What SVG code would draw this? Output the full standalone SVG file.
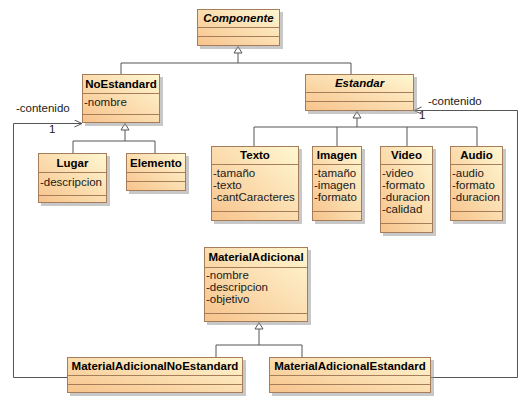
<svg xmlns="http://www.w3.org/2000/svg" width="519" height="399" viewBox="0 0 519 399">
<style>
.bx{fill:url(#g);stroke:#a57d5a;stroke-width:1}
.sh{fill:#9a9a9a;opacity:0.55}
.sep{stroke:#a57d5a;stroke-width:1}
.t{font-family:"Liberation Sans",Arial,sans-serif;font-size:11.5px;font-weight:bold;fill:#000;text-anchor:middle}
.ti{font-style:italic}
.a{font-family:"Liberation Sans",Arial,sans-serif;font-size:11.5px;fill:#1a1a1a}
.c{fill:none;stroke:#555;stroke-width:1}
.tri{fill:#fff;stroke:#555;stroke-width:1}
.l{font-family:"Liberation Sans",Arial,sans-serif;font-size:11.5px;fill:#1a1a1a}
</style>
<defs>
<linearGradient id="g" x1="0" y1="1" x2="1" y2="0">
<stop offset="0" stop-color="#f7c38c"/>
<stop offset="1" stop-color="#fff7d2"/>
</linearGradient>
<marker id="open" markerWidth="10" markerHeight="10" refX="8" refY="4" orient="auto" markerUnits="userSpaceOnUse">
<path d="M0.5,0.5 L8,4 L0.5,7.5" fill="none" stroke="#555" stroke-width="1"/>
</marker>
</defs>
<rect width="519" height="399" fill="#fff"/>

<g id="connectors">
<polyline class="c" points="238,53 238,63"/>
<polyline class="c" points="121,74 121,63 351,63 351,74"/>
<polygon class="tri" points="238,46.5 234,53 242,53"/>
<polyline class="c" points="125,130 125,141"/>
<polyline class="c" points="73,153 73,141 155,141 155,153"/>
<polygon class="tri" points="125,123.5 121,130 129,130"/>
<polyline class="c" points="357,118 357,127"/>
<polyline class="c" points="254,146 254,127 477,127 477,146"/>
<polyline class="c" points="337,127 337,146"/>
<polyline class="c" points="407,127 407,146"/>
<polygon class="tri" points="357,111.5 353,118 361,118"/>
<polyline class="c" points="259,329 259,345"/>
<polyline class="c" points="216,357 216,345 302,345 302,357"/>
<polygon class="tri" points="259,322.5 255,329 263,329"/>
<polyline class="c" points="67,377.5 13.5,377.5 13.5,123.5 82,123.5" marker-end="url(#open)"/>
<polyline class="c" points="431,377.5 517.5,377.5 517.5,110.5 414,110.5" marker-end="url(#open)"/>
<text class="l" x="16" y="112">-contenido</text>
<text class="l" x="49" y="133">1</text>
<text class="l" x="428" y="105">-contenido</text>
<text class="l" x="419" y="119">1</text>
</g>

<g id="Componente">
<rect class="sh" x="200" y="12" width="83" height="37"/>
<rect class="bx" x="197.5" y="9.5" width="82" height="36"/>
<line class="sep" x1="197.5" y1="27.5" x2="279.5" y2="27.5"/>
<line class="sep" x1="197.5" y1="36.5" x2="279.5" y2="36.5"/>
<text class="t ti" x="238.5" y="22">Componente</text>
</g>

<g id="NoEstandard">
<rect class="sh" x="85" y="77" width="78" height="49"/>
<rect class="bx" x="82.5" y="74.5" width="77" height="48"/>
<line class="sep" x1="82.5" y1="93.5" x2="159.5" y2="93.5"/>
<line class="sep" x1="82.5" y1="114.5" x2="159.5" y2="114.5"/>
<text class="t" x="121" y="88">NoEstandard</text>
<text class="a" x="84" y="106">-nombre</text>
</g>

<g id="Estandar">
<rect class="sh" x="308" y="77" width="109" height="37"/>
<rect class="bx" x="305.5" y="74.5" width="108" height="36"/>
<line class="sep" x1="305.5" y1="92.5" x2="413.5" y2="92.5"/>
<line class="sep" x1="305.5" y1="101.5" x2="413.5" y2="101.5"/>
<text class="t ti" x="359.5" y="87">Estandar</text>
</g>

<g id="Lugar">
<rect class="sh" x="41" y="156" width="69" height="50"/>
<rect class="bx" x="38.5" y="153.5" width="68" height="49"/>
<line class="sep" x1="38.5" y1="172.5" x2="106.5" y2="172.5"/>
<line class="sep" x1="38.5" y1="195.5" x2="106.5" y2="195.5"/>
<text class="t" x="72.5" y="167">Lugar</text>
<text class="a" x="40" y="186">-descripcion</text>
</g>

<g id="Elemento">
<rect class="sh" x="129" y="156" width="60" height="38"/>
<rect class="bx" x="126.5" y="153.5" width="59" height="37"/>
<line class="sep" x1="126.5" y1="172.5" x2="185.5" y2="172.5"/>
<line class="sep" x1="126.5" y1="181.5" x2="185.5" y2="181.5"/>
<text class="t" x="156" y="167">Elemento</text>
</g>

<g id="Texto">
<rect class="sh" x="214" y="149" width="88" height="75"/>
<rect class="bx" x="211.5" y="146.5" width="87" height="74"/>
<line class="sep" x1="211.5" y1="164.5" x2="298.5" y2="164.5"/>
<line class="sep" x1="211.5" y1="211.5" x2="298.5" y2="211.5"/>
<text class="t" x="255" y="159">Texto</text>
<text class="a" x="213" y="177">-tamaño</text>
<text class="a" x="213" y="189">-texto</text>
<text class="a" x="213" y="201">-cantCaracteres</text>
</g>

<g id="Imagen">
<rect class="sh" x="315" y="149" width="50" height="75"/>
<rect class="bx" x="312.5" y="146.5" width="49" height="74"/>
<line class="sep" x1="312.5" y1="164.5" x2="361.5" y2="164.5"/>
<line class="sep" x1="312.5" y1="211.5" x2="361.5" y2="211.5"/>
<text class="t" x="337" y="159">Imagen</text>
<text class="a" x="314" y="177">-tamaño</text>
<text class="a" x="314" y="189">-imagen</text>
<text class="a" x="314" y="201">-formato</text>
</g>

<g id="Video">
<rect class="sh" x="383" y="149" width="53" height="87"/>
<rect class="bx" x="380.5" y="146.5" width="52" height="86"/>
<line class="sep" x1="380.5" y1="164.5" x2="432.5" y2="164.5"/>
<line class="sep" x1="380.5" y1="223.5" x2="432.5" y2="223.5"/>
<text class="t" x="406.5" y="159">Video</text>
<text class="a" x="382" y="177">-video</text>
<text class="a" x="382" y="189">-formato</text>
<text class="a" x="382" y="201">-duracion</text>
<text class="a" x="382" y="213">-calidad</text>
</g>

<g id="Audio">
<rect class="sh" x="453" y="149" width="53" height="75"/>
<rect class="bx" x="450.5" y="146.5" width="52" height="74"/>
<line class="sep" x1="450.5" y1="164.5" x2="502.5" y2="164.5"/>
<line class="sep" x1="450.5" y1="211.5" x2="502.5" y2="211.5"/>
<text class="t" x="476.5" y="159">Audio</text>
<text class="a" x="452" y="177">-audio</text>
<text class="a" x="452" y="189">-formato</text>
<text class="a" x="452" y="201">-duracion</text>
</g>

<g id="MaterialAdicional">
<rect class="sh" x="207" y="250" width="104" height="75"/>
<rect class="bx" x="204.5" y="247.5" width="103" height="74"/>
<line class="sep" x1="204.5" y1="267.5" x2="307.5" y2="267.5"/>
<line class="sep" x1="204.5" y1="313.5" x2="307.5" y2="313.5"/>
<text class="t" x="256" y="261">MaterialAdicional</text>
<text class="a" x="206" y="279">-nombre</text>
<text class="a" x="206" y="291">-descripcion</text>
<text class="a" x="206" y="303">-objetivo</text>
</g>

<g id="MaterialAdicionalNoEstandard">
<rect class="sh" x="70" y="360" width="176" height="36"/>
<rect class="bx" x="67.5" y="357.5" width="175" height="35"/>
<line class="sep" x1="67.5" y1="375.5" x2="242.5" y2="375.5"/>
<line class="sep" x1="67.5" y1="384.5" x2="242.5" y2="384.5"/>
<text class="t" x="155" y="370">MaterialAdicionalNoEstandard</text>
</g>

<g id="MaterialAdicionalEstandard">
<rect class="sh" x="272" y="360" width="162" height="36"/>
<rect class="bx" x="269.5" y="357.5" width="161" height="35"/>
<line class="sep" x1="269.5" y1="375.5" x2="430.5" y2="375.5"/>
<line class="sep" x1="269.5" y1="384.5" x2="430.5" y2="384.5"/>
<text class="t" x="350" y="370">MaterialAdicionalEstandard</text>
</g>
</svg>
